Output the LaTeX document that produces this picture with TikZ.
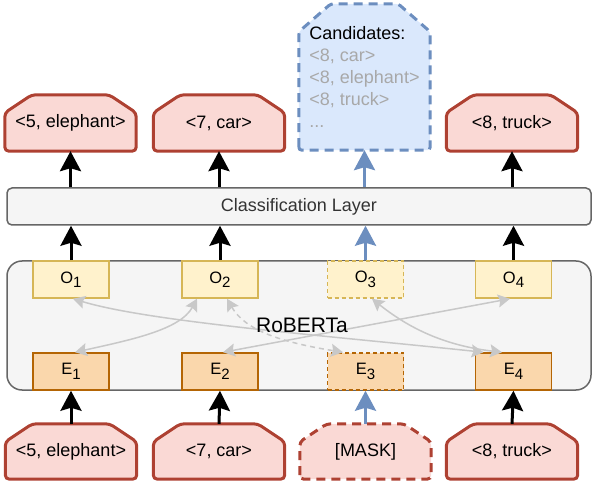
\documentclass[tikz,border=0pt]{standalone}
\usepackage{fontspec}
\setmainfont{Liberation Sans}
\usetikzlibrary{arrows.meta,calc}
\pgfdeclarelayer{bg}
\pgfsetlayers{bg,main}
\definecolor{redfill}{HTML}{FAD9D5}
\definecolor{redline}{HTML}{AE4132}
\definecolor{bluefill}{HTML}{DAE8FC}
\definecolor{blueline}{HTML}{6C8EBF}
\definecolor{ofill}{HTML}{FFF2CC}
\definecolor{oline}{HTML}{D6B656}
\definecolor{efill}{HTML}{FAD7AC}
\definecolor{eline}{HTML}{B46504}
\definecolor{boxfill}{HTML}{F5F5F5}
\definecolor{boxline}{HTML}{666666}
\definecolor{txtgray}{HTML}{333333}
\definecolor{candgray}{HTML}{A8A8A8}
\definecolor{curvegray}{HTML}{C8C8C8}
\newcommand\chamfershape[4]{%
  \begin{pgfonlayer}{bg}
  \draw[#2] (#1.south west) -- ([yshift=-#4pt]#1.north west) -- ([xshift=#3pt]#1.north west) -- ([xshift=-#3pt]#1.north east) -- ([yshift=-#4pt]#1.north east) -- (#1.south east) -- cycle;
  \end{pgfonlayer}}
\newcommand\sub[2]{#1\raisebox{-4.5pt}{\fontsize{15}{15}\selectfont #2}}
\tikzset{
  tag/.style={minimum width=131pt, minimum height=56pt, inner sep=0pt, font=\fontsize{18}{22}\selectfont},
  redshape/.style={draw=redline, fill=redfill, line width=3pt, rounded corners=4pt},
  redshapedash/.style={redshape, dash pattern=on 9pt off 6pt},
  blueshape/.style={draw=blueline, fill=bluefill, line width=3pt, rounded corners=3pt, dash pattern=on 9pt off 6pt},
  oe/.style={minimum width=76pt, minimum height=37pt, inner sep=0pt, line width=1.5pt, font=\fontsize{16.5}{18}\selectfont},
  obox/.style={oe, draw=oline, fill=ofill},
  ebox/.style={oe, draw=eline, fill=efill},
  dashbox/.style={dash pattern=on 4pt off 3pt},
  panel/.style={draw=boxline, fill=boxfill, line width=1.5pt, inner sep=0pt},
  blackflow/.style={draw=black, line width=3pt, -{Stealth[length=20pt,width=21pt,inset=3pt]}},
  blueflow/.style={draw=blueline, line width=3pt, -{Stealth[length=20pt,width=21pt,inset=3pt]}},
  attn/.style={draw=curvegray, line width=1.5pt, {Stealth[length=12pt,width=13pt,inset=2pt]}-{Stealth[length=12pt,width=13pt,inset=2pt]}},
  attndash/.style={attn, dash pattern=on 5pt off 4pt}
}
\begin{document}
\begin{tikzpicture}[x=1pt,y=-1pt]
\useasboundingbox (0,0) rectangle (592,481);
% panels
\node[panel, rounded corners=15pt, minimum width=584pt, minimum height=129pt] (rob) at (299,325.5) {};
\node[panel, rounded corners=5pt, minimum width=584pt, minimum height=37pt, text=txtgray, font=\fontsize{18}{22}\selectfont] (cls) at (299,206.5) {Classification Layer};
% O and E boxes
\node[obox] (O1) at (71,279.5) {\sub{O}{1}};
\node[obox] (O2) at (220,279.5) {\sub{O}{2}};
\node[obox, dashbox] (O3) at (365.5,279.5) {\sub{O}{3}};
\node[obox] (O4) at (513.5,279.5) {\sub{O}{4}};
\node[ebox] (E1) at (71,371.5) {\sub{E}{1}};
\node[ebox] (E2) at (220,371.5) {\sub{E}{2}};
\node[ebox, dashbox] (E3) at (365.5,371.5) {\sub{E}{3}};
\node[ebox] (E4) at (513.5,371.5) {\sub{E}{4}};
% attention curves
\draw[attn] ([xshift=2pt]O1.south) .. controls (150,322) and (330,336) .. ([xshift=-30pt]E4.north);
\draw[attn] ([xshift=4pt]E1.north) .. controls (130,340) and (180,330) .. ([xshift=-23pt]O2.south);
\draw[attn] ([xshift=3pt]E2.north) -- ([xshift=-3.5pt]O4.south);
\draw[attn] ([xshift=6.5pt]O3.south) .. controls (405,325) and (440,345) .. ([xshift=-11.5pt]E4.north);
\draw[attndash] ([xshift=7pt]O2.south) .. controls (245,330) and (280,342) .. ([xshift=-22.5pt]E3.north);
\node[font=\fontsize{21}{24}\selectfont] (lbl) at (302,325.5) {RoBERTa};
% top tags
\node[tag] (t1) at (70.5,123) {<5, elephant>};
\chamfershape{t1}{redshape}{27}{18}
\node[tag] (t2) at (219,123) {<7, car>};
\chamfershape{t2}{redshape}{27}{18}
\node[tag] (t4) at (512,123) {<8, truck>};
\chamfershape{t4}{redshape}{27}{18}
\node[tag, minimum height=146pt, align=left] (c3) at (364.5,77)
  {Candidates:\\\textcolor{candgray}{<8, car>}\\\textcolor{candgray}{<8, elephant>}\\\textcolor{candgray}{<8, truck>}\\\textcolor{candgray}{...}};
\chamfershape{c3}{blueshape}{32}{28}
% bottom tags
\node[tag, minimum height=55pt] (b1) at (71,451.5) {<5, elephant>};
\chamfershape{b1}{redshape}{27}{18}
\node[tag, minimum height=55pt] (b2) at (219,451.5) {<7, car>};
\chamfershape{b2}{redshape}{27}{18}
\node[tag, minimum height=55pt] (b3) at (365.5,451.5) {[MASK]};
\chamfershape{b3}{redshapedash}{27}{18}
\node[tag, minimum height=55pt] (b4) at (512,451.5) {<8, truck>};
\chamfershape{b4}{redshape}{27}{18}
% flows
\draw[blackflow] (t1.south |- cls.north) -- (t1.south);
\draw[blackflow] (t2.south |- cls.north) -- (t2.south);
\draw[blueflow] (c3.south |- cls.north) -- (c3.south);
\draw[blackflow] (t4.south |- cls.north) -- (t4.south);
\draw[blackflow] (O1.north) -- (O1.north |- cls.south);
\draw[blackflow] (O2.north) -- (O2.north |- cls.south);
\draw[blueflow] (O3.north) -- (O3.north |- cls.south);
\draw[blackflow] (O4.north) -- (O4.north |- cls.south);
\draw[blackflow] (b1.north) -- (E1.south);
\draw[blackflow] (b2.north) -- (E2.south);
\draw[blueflow] (b3.north) -- (E3.south);
\draw[blackflow] (b4.north) -- (E4.south);
\end{tikzpicture}
\end{document}
